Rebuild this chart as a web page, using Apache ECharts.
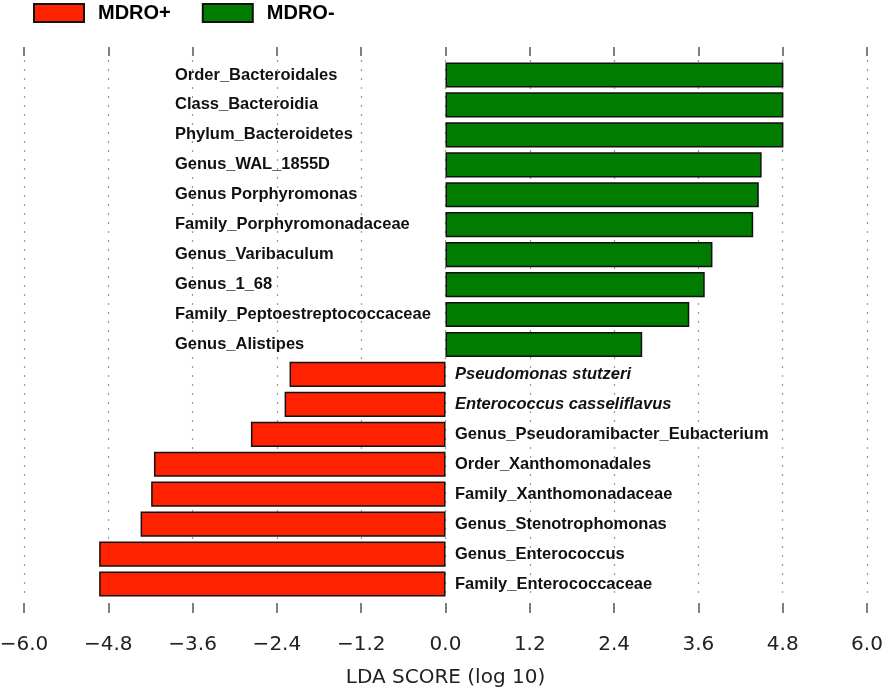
<!DOCTYPE html>
<html lang="en">
<head>
    <meta charset="utf-8">
    <title>LDA SCORE</title>
    <style>
        html, body { margin: 0; padding: 0; background: #fff; }
        #chart { width: 884px; height: 689px; }
    </style>
</head>
<body>
<div id="chart"></div>
<script src="https://cdn.jsdelivr.net/npm/echarts@6/dist/echarts.min.js"></script>
<script>
    // taxa, top to bottom
    let taxa = [
        'Order_Bacteroidales', 'Class_Bacteroidia', 'Phylum_Bacteroidetes', 'Genus_WAL_1855D',
        'Genus Porphyromonas', 'Family_Porphyromonadaceae', 'Genus_Varibaculum', 'Genus_1_68',
        'Family_Peptoestreptococcaceae', 'Genus_Alistipes', 'Pseudomonas stutzeri',
        'Enterococcus casseliflavus', 'Genus_Pseudoramibacter_Eubacterium', 'Order_Xanthomonadales',
        'Family_Xanthomonadaceae', 'Genus_Stenotrophomonas', 'Genus_Enterococcus', 'Family_Enterococcaceae'
    ];
    // LDA score (log 10), negative = MDRO+
    let scores = [
        4.81, 4.81, 4.81, 4.50,
        4.46, 4.38, 3.80, 3.69,
        3.47, 2.80, -2.22,
        -2.29, -2.77, -4.15,
        -4.19, -4.34, -4.93, -4.93
    ];
    // species names are drawn in italics
    let species = ['Pseudomonas stutzeri', 'Enterococcus casseliflavus'];
    let ticks = [-6.0, -4.8, -3.6, -2.4, -1.2, 0.0, 1.2, 2.4, 3.6, 4.8, 6.0];

    let posData = scores.map(v => v > 0 ? v : '-');
    let negData = scores.map(v => v < 0 ? v : '-');

    let chart = echarts.init(document.getElementById('chart'));

    let labelFont = {fontFamily: 'Liberation Sans', fontWeight: 'bold', fontSize: 16.5, color: '#111'};

    let option = {
        animation: false,
        legend: {
            left: 33,
            top: 3,
            padding: 0,
            icon: 'rect',
            itemWidth: 50,
            itemHeight: 18,
            itemGap: 31,
            textStyle: {
                fontFamily: 'Liberation Sans',
                fontWeight: 'bold',
                fontSize: 20,
                color: '#000',
                padding: [0, 0, 0, 9]
            },
            data: ['MDRO+', 'MDRO-']
        },
        grid: {
            left: 24,
            right: 17,
            top: 60,
            bottom: 90,
            outerBoundsMode: 'none'
        },
        xAxis: [
            {
                type: 'value',
                min: ticks[0],
                max: ticks[ticks.length - 1],
                interval: 1.2,
                offset: 4,
                name: 'LDA SCORE (log 10)',
                nameLocation: 'middle',
                nameGap: 65,
                nameTextStyle: {fontFamily: 'DejaVu Sans', fontSize: 20, color: '#222'},
                axisLine: {show: false},
                axisTick: {show: true, length: 10, lineStyle: {color: '#555', width: 1.5}},
                axisLabel: {
                    margin: 32,
                    fontFamily: 'DejaVu Sans',
                    fontSize: 20,
                    color: '#222',
                    formatter: function (v) {
                        return v.toFixed(1).replace('-', '\u2212');
                    }
                },
                splitLine: {show: true, lineStyle: {type: [2, 7], color: '#999', width: 1.2}}
            },
            {
                type: 'value',
                position: 'top',
                min: ticks[0],
                max: ticks[ticks.length - 1],
                interval: 1.2,
                offset: 4,
                axisLine: {show: false},
                axisTick: {show: true, length: 9, lineStyle: {color: '#555', width: 1.5}},
                axisLabel: {show: false},
                splitLine: {show: false}
            }
        ],
        yAxis: {
            type: 'category',
            inverse: true,
            data: taxa,
            axisLine: {show: false},
            axisTick: {show: false},
            axisLabel: {
                inside: true,
                margin: 0,
                formatter: function (name, i) {
                    if (scores[i] > 0) return '{g|' + name + '}';
                    if (species.indexOf(name) >= 0) return '{ri|' + name + '}';
                    return '{r|' + name + '}';
                },
                rich: {
                    g: Object.assign({padding: [0, 0, 0, 151]}, labelFont),
                    r: Object.assign({padding: [0, 0, 0, 431]}, labelFont),
                    ri: Object.assign({padding: [0, 0, 0, 431], fontStyle: 'italic'}, labelFont)
                }
            }
        },
        series: [
            {
                name: 'MDRO+',
                type: 'bar',
                data: negData,
                barWidth: '84%',
                barGap: '-100%',
                itemStyle: {color: '#ff2200', borderColor: '#111', borderWidth: 1.5}
            },
            {
                name: 'MDRO-',
                type: 'bar',
                data: posData,
                barWidth: '84%',
                barGap: '-100%',
                itemStyle: {color: '#007c00', borderColor: '#111', borderWidth: 1.5}
            }
        ]
    };

    chart.setOption(option);
</script>
</body>
</html>
